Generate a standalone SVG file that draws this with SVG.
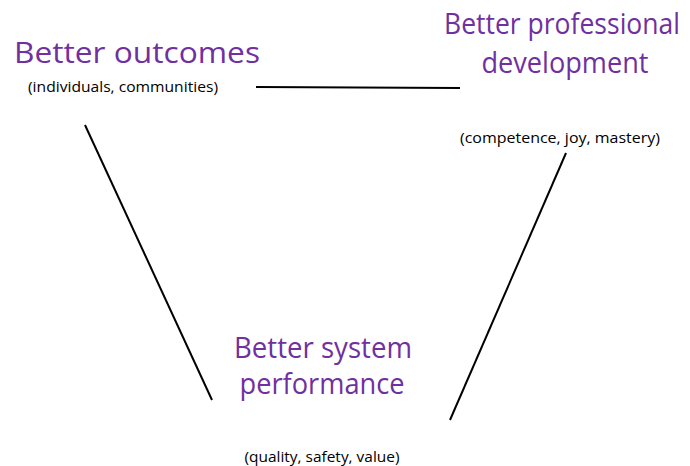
<svg xmlns="http://www.w3.org/2000/svg" width="690" height="466" viewBox="0 0 690 466">
<style>
.t{font-family:"Open Sans",Lato,"Liberation Sans",sans-serif;fill:#7030A0;font-size:29px;text-anchor:middle}
.s{font-family:"Open Sans",Lato,"Liberation Sans",sans-serif;fill:#000;font-size:15px;text-anchor:middle}
.c{stroke:#000;stroke-width:2;fill:none}
</style>
<rect width="690" height="466" fill="#fff"/>
<g id="connectors">
<line class="c" x1="256" y1="87" x2="460" y2="88"/>
<line class="c" x1="85" y1="125" x2="212" y2="400"/>
<line class="c" x1="566" y1="153" x2="450" y2="420"/>
</g>
<g id="outcomes">
<text class="t" x="137" y="63" textLength="246" lengthAdjust="spacingAndGlyphs">Better outcomes</text>
<text class="s" x="123" y="92" textLength="190" lengthAdjust="spacingAndGlyphs">(individuals, communities)</text>
</g>
<g id="professional">
<text class="t" x="562" y="34" textLength="236" lengthAdjust="spacingAndGlyphs">Better professional</text>
<text class="t" x="565" y="73" textLength="167" lengthAdjust="spacingAndGlyphs">development</text>
<text class="s" x="560" y="143" textLength="200" lengthAdjust="spacingAndGlyphs">(competence, joy, mastery)</text>
</g>
<g id="system">
<text class="t" x="323" y="358" textLength="178" lengthAdjust="spacingAndGlyphs">Better system</text>
<text class="t" x="322" y="394" textLength="165" lengthAdjust="spacingAndGlyphs">performance</text>
<text class="s" x="322" y="462" textLength="155" lengthAdjust="spacingAndGlyphs">(quality, safety, value)</text>
</g>
</svg>
